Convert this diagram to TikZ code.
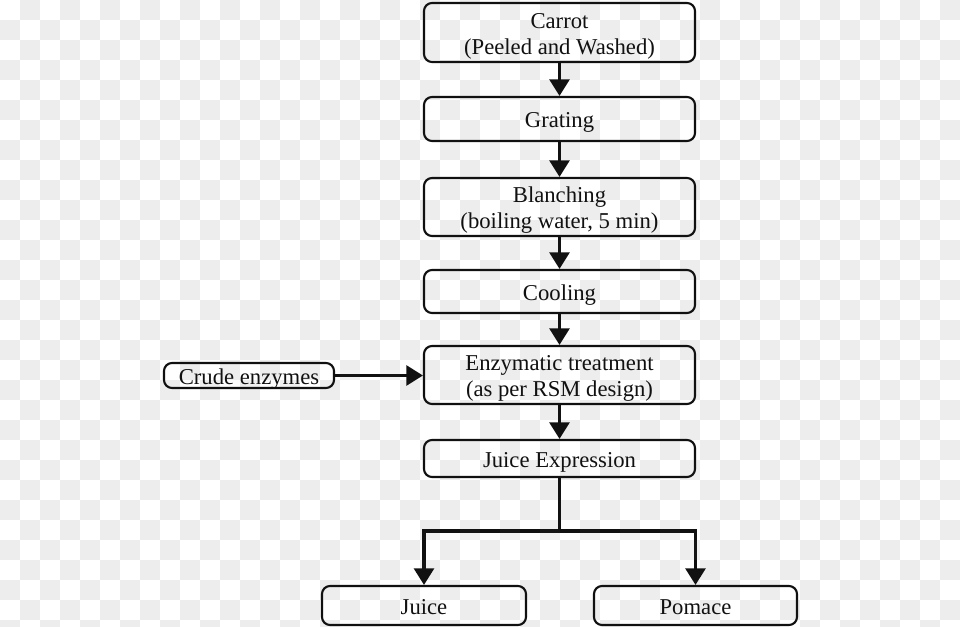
\documentclass[tikz,border=0pt]{standalone}
\usepackage{fontspec}
\setmainfont{Liberation Serif}
\usetikzlibrary{arrows.meta}
\definecolor{checkgray}{HTML}{EDEDED}
\definecolor{ink}{HTML}{111111}
\tikzset{
  stepbox/.style={draw=ink, line width=1.6pt, rounded corners=6pt, inner sep=0pt,
    align=center, text=ink, font=\fontsize{17}{19.5}\selectfont},
  oneline/.style={text height=16.3pt, text depth=3.5pt},
  twoline/.style={text height=35.8pt, text depth=3.5pt},
  flow/.style={draw=ink, line width=2.3pt, -{Triangle[width=15pt,length=12.5pt]}},
  plainline/.style={draw=ink, line width=2.3pt}
}
\begin{document}
\begin{tikzpicture}[x=0.75pt, y=-0.75pt]
\useasboundingbox (0,0) rectangle (960,627);
% checkerboard background
\fill[white] (0,0) rectangle (960,627);
\begin{scope}
\clip (0,0) rectangle (960,627);
\foreach \i in {0,...,47}{
  \foreach \j in {0,...,31}{
    \pgfmathtruncatemacro{\cellpar}{mod(\i+\j,2)}
    \ifnum\cellpar=1
      \fill[checkgray] (\i*20,\j*20) rectangle ++(20,20);
    \fi
  }
}
\end{scope}
% nodes
\node[stepbox, twoline, minimum width=203.25pt, minimum height=44.25pt] (carrot) at (559.5,32.5) {Carrot\\(Peeled and Washed)};
\node[stepbox, oneline, minimum width=203.25pt, minimum height=33pt] (grating) at (559.5,119) {Grating};
\node[stepbox, twoline, minimum width=203.25pt, minimum height=43.5pt] (blanch) at (559.5,207) {Blanching\\(boiling water, 5 min)};
\node[stepbox, oneline, minimum width=203.25pt, minimum height=32.25pt] (cool) at (559.5,291.5) {Cooling};
\node[stepbox, twoline, minimum width=203.25pt, minimum height=43.5pt] (enzyme) at (559.5,375) {Enzymatic treatment\\(as per RSM design)};
\node[stepbox, oneline, minimum width=203.25pt, minimum height=27.75pt] (express) at (559.5,458.5) {Juice Expression};
\node[stepbox, oneline, minimum width=153pt, minimum height=29.25pt] (juice) at (424,605.5) {Juice};
\node[stepbox, text height=16pt, text depth=2.75pt, minimum width=127.5pt, minimum height=18.75pt] (crude) at (249,375.5) {Crude enzymes};
\node[stepbox, oneline, minimum width=152.25pt, minimum height=29.25pt] (pomace) at (695.5,605.5) {Pomace};
\coordinate (split) at (559.5,531);
% connectors
\draw[flow] (carrot) -- (grating);
\draw[flow] (grating) -- (blanch);
\draw[flow] (blanch) -- (cool);
\draw[flow] (cool) -- (enzyme);
\draw[flow] (enzyme) -- (express);
\draw[flow] (crude.east) -- (crude.east -| enzyme.west);
\draw[plainline] (express.south) -- (split);
\draw[flow] (split) -| (juice.north);
\draw[flow] (split) -| (pomace.north);
\end{tikzpicture}
\end{document}
